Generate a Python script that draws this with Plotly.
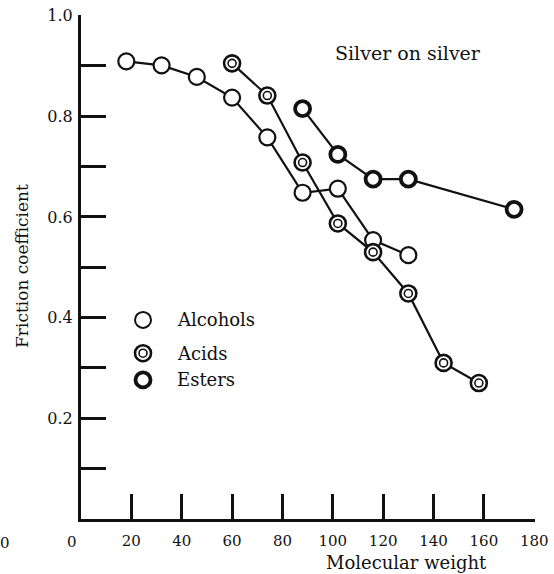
import plotly.graph_objects as go

# Data
alc_mw = [18, 32, 46, 60, 74, 88, 102, 116, 130]
alc_f = [0.909, 0.901, 0.878, 0.837, 0.758, 0.648, 0.656, 0.554, 0.524]

acid_mw = [60, 74, 88, 102, 116, 130, 144, 158]
acid_f = [0.905, 0.841, 0.708, 0.587, 0.530, 0.448, 0.310, 0.270]

ester_mw = [88, 102, 116, 130, 172]
ester_f = [0.815, 0.724, 0.675, 0.675, 0.615]

x_tickvals = [0, 20, 40, 60, 80, 100, 120, 140, 160, 180]
x_ticktext = ["", "20", "40", "60", "80", "100", "120", "140", "160", "180"]
y_tickvals = [0.1, 0.2, 0.3, 0.4, 0.5, 0.6, 0.7, 0.8, 0.9, 1.0]
y_ticktext = ["", "0.2", "", "0.4", "", "0.6", "", "0.8", "", "1.0"]

legend_labels = ["Alcohols", "Acids", "Esters"]

INK = "#111111"
FONT = "DejaVu Serif"

fig = go.Figure()

# lines
for xs, ys in [(alc_mw, alc_f), (acid_mw, acid_f), (ester_mw, ester_f)]:
    fig.add_trace(go.Scatter(x=xs, y=ys, mode="lines",
                             line=dict(color=INK, width=2.2),
                             showlegend=False, hoverinfo="skip"))

# markers
fig.add_trace(go.Scatter(x=alc_mw, y=alc_f, mode="markers", name="Alcohols",
                         marker=dict(symbol="circle", size=16, color="white",
                                     line=dict(color=INK, width=2.2)),
                         showlegend=False))
fig.add_trace(go.Scatter(x=acid_mw, y=acid_f, mode="markers", name="Acids",
                         marker=dict(symbol="circle", size=16, color="white",
                                     line=dict(color=INK, width=2.6)),
                         showlegend=False))
fig.add_trace(go.Scatter(x=acid_mw, y=acid_f, mode="markers", name="Acids inner",
                         marker=dict(symbol="circle-open", size=8, color=INK,
                                     line=dict(color=INK, width=1.6)),
                         showlegend=False, hoverinfo="skip"))
fig.add_trace(go.Scatter(x=ester_mw, y=ester_f, mode="markers", name="Esters",
                         marker=dict(symbol="circle", size=15, color="white",
                                     line=dict(color=INK, width=3.8)),
                         showlegend=False))

# manual legend
leg_x = 0.1366
leg_y = [0.395, 0.329, 0.276]
shape_specs = [
    [(16, 2.0)],
    [(16, 2.6), (8, 1.6)],
    [(15, 3.8)],
]
for yy, specs, lab in zip(leg_y, shape_specs, legend_labels):
    for d, w in specs:
        fig.add_shape(type="circle", xref="paper", yref="paper",
                      xsizemode="pixel", ysizemode="pixel",
                      xanchor=leg_x, yanchor=yy,
                      x0=-d / 2, x1=d / 2, y0=-d / 2, y1=d / 2,
                      line=dict(color=INK, width=w), fillcolor="white")
    fig.add_annotation(x=0.207, y=yy, xref="paper", yref="paper",
                       text=lab, showarrow=False, xanchor="left", yanchor="middle",
                       font=dict(family=FONT, size=18, color=INK))

# texts
fig.add_annotation(x=0.720, y=0.925, xref="paper", yref="paper",
                   text="Silver on silver", showarrow=False,
                   xanchor="center", yanchor="middle",
                   font=dict(family=FONT, size=19, color=INK))
fig.add_annotation(x=0.718, y=-0.087, xref="paper", yref="paper",
                   text="Molecular weight", showarrow=False,
                   xanchor="center", yanchor="middle",
                   font=dict(family=FONT, size=18, color=INK))
fig.add_annotation(x=-0.130, y=0.502, xref="paper", yref="paper",
                   text="Friction coefficient", showarrow=False, textangle=-90,
                   xanchor="center", yanchor="middle",
                   font=dict(family=FONT, size=17, color=INK))
fig.add_annotation(x=0, y=0, xref="x", yref="y", xshift=-9, yshift=-23,
                   text="0", showarrow=False,
                   font=dict(family=FONT, size=15, color=INK))
fig.add_annotation(x=-0.167, y=-0.047, xref="paper", yref="paper",
                   text="0", showarrow=False,
                   xanchor="center", yanchor="middle",
                   font=dict(family=FONT, size=15, color=INK))

fig.update_xaxes(range=[0, 180.3], tickvals=x_tickvals, ticktext=x_ticktext,
                 ticks="inside", ticklen=25, tickwidth=2.5, tickcolor=INK,
                 showline=True, linewidth=3, linecolor=INK,
                 showgrid=False, zeroline=False, ticklabelstandoff=6,
                 automargin=False, ticklabeloverflow="allow",
                 tickfont=dict(family=FONT, size=15, color=INK))
fig.update_yaxes(range=[0, 1.001], tickvals=y_tickvals, ticktext=y_ticktext,
                 ticks="inside", ticklen=25, tickwidth=2.5, tickcolor=INK,
                 showline=True, linewidth=3, linecolor=INK,
                 showgrid=False, zeroline=False, ticklabelstandoff=2,
                 automargin=False, ticklabeloverflow="allow",
                 tickfont=dict(family=FONT, size=16, color=INK))

fig.update_layout(width=554, height=574,
                  margin=dict(l=81, r=19, t=15, b=55),
                  paper_bgcolor="white", plot_bgcolor="white",
                  showlegend=False)

fig.write_html("out.html", config={"displayModeBar": False},
               post_script="document.body.style.margin='0';document.body.style.overflow='hidden';")
